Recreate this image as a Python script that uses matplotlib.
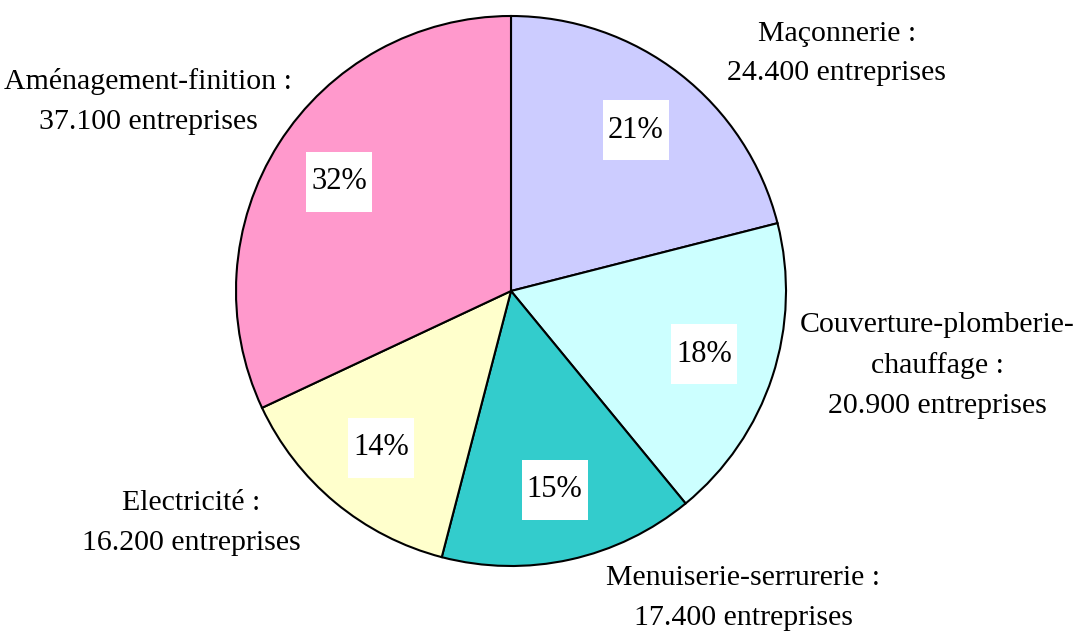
import matplotlib.pyplot as plt
from matplotlib.patches import Rectangle

# data
categories = ["Maçonnerie :\n24.400 entreprises",
              "Couverture-plomberie-\nchauffage :\n20.900 entreprises",
              "Menuiserie-serrurerie :\n17.400 entreprises",
              "Electricité :\n16.200 entreprises",
              "Aménagement-finition :\n37.100 entreprises"]
values = [24400, 20900, 17400, 16200, 37100]
colors = ["#CCCCFF", "#CCFFFF", "#33CCCC", "#FFFFCC", "#FF99CC"]

plt.rcParams['font.family'] = ['Liberation Serif', 'DejaVu Serif']

fig = plt.figure(figsize=(10.77, 6.33), dpi=100)
ax = fig.add_axes([0, 0, 1, 1])

wedges, texts, autotexts = ax.pie(
    values, colors=colors, startangle=90, counterclock=False,
    autopct=lambda p: "%d%%" % round(p), pctdistance=0.74,
    wedgeprops=dict(edgecolor="black", linewidth=1.5),
    textprops=dict(fontsize=22))

# white boxes behind the percentages
bw, bh = 66 / 275, 60 / 275
for t in autotexts:
    x, y = t.get_position()
    ax.add_patch(Rectangle((x - bw / 2, y - bh / 2), bw, bh,
                           facecolor="white", edgecolor="none", zorder=2))
    t.set_zorder(3)

# outer labels, placed like the original
label_pos = [(1.185, 0.864), (1.549, -0.27), (0.844, -1.116),
             (-1.164, -0.843), (-1.32, 0.69)]
for lab, (x, y) in zip(categories, label_pos):
    ax.text(x, y, lab, ha="center", va="center", fontsize=21.5, linespacing=1.68)

ax.set_xlim(-511 / 275, (1077 - 511) / 275)
ax.set_ylim(-(633 - 291) / 275, 291 / 275)
ax.set_aspect("equal")
ax.axis("off")

fig.savefig("out.png", dpi=100, facecolor="white")
